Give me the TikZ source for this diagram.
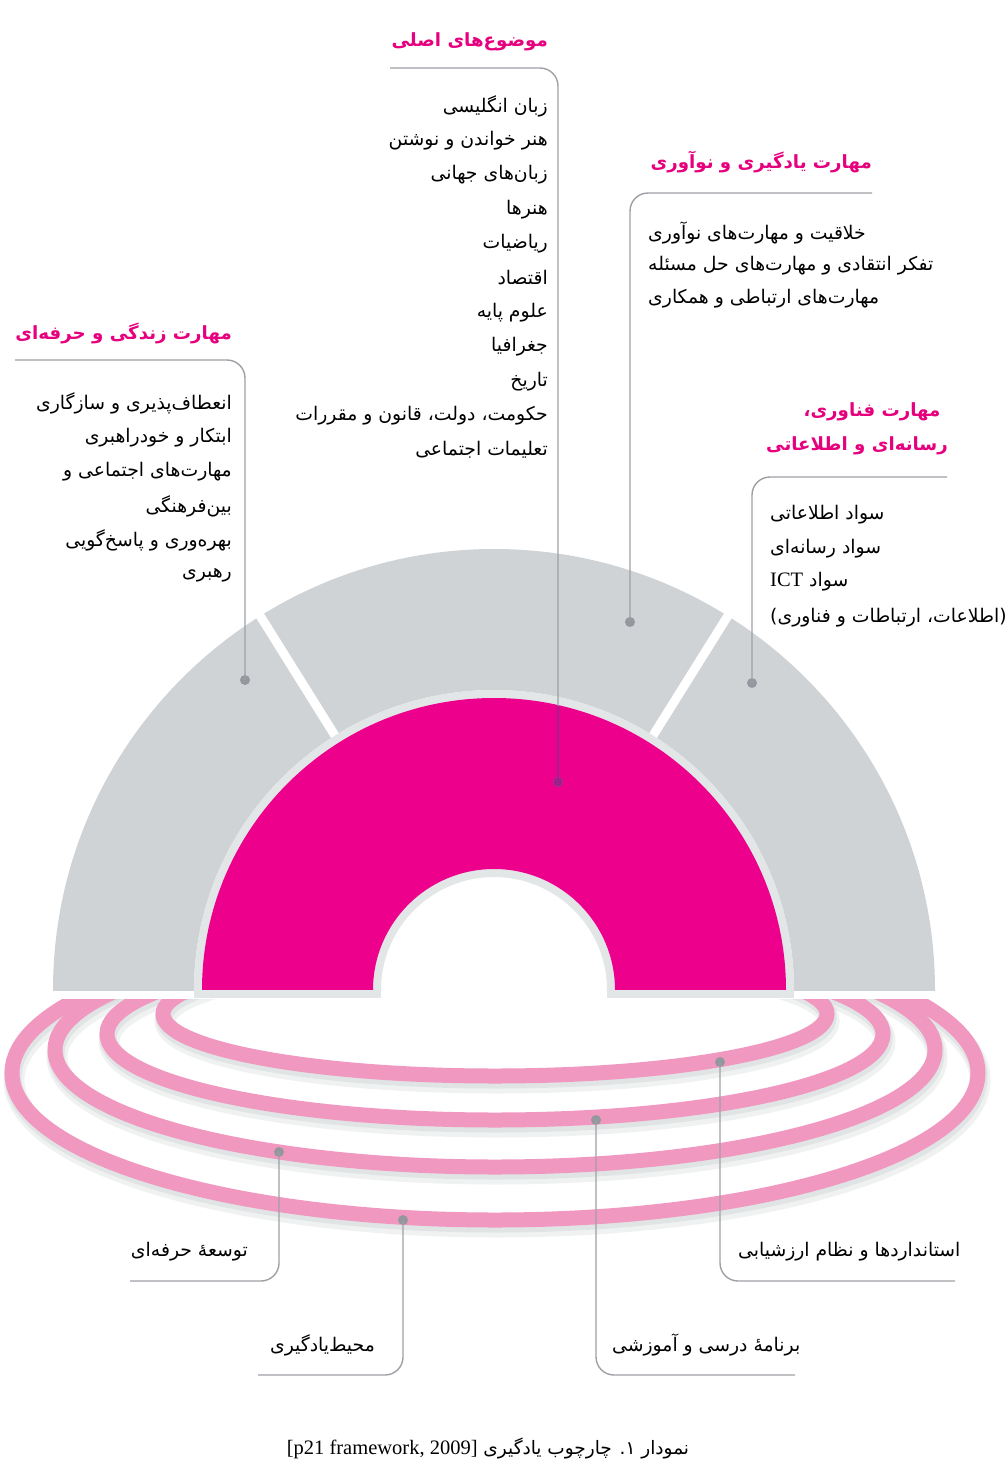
\documentclass[tikz,border=0pt]{standalone}
\usepackage{fontspec}
\setmainfont{Liberation Serif}
\newfontfamily\arabicfont[Script=Arabic]{DejaVu Sans}
\newfontfamily\latinfont{Liberation Serif}
\TeXXeTstate=1
\newcommand{\rtl}[1]{\beginR #1\endR}
\newcommand{\bodyfont}{\arabicfont\fontsize{18.8}{21}\selectfont}
\newcommand{\headfont}{\arabicfont\bfseries\fontsize{18.2}{21}\selectfont}
\definecolor{mag}{RGB}{236,0,140}
\definecolor{headmag}{RGB}{230,0,126}
\definecolor{archgrey}{RGB}{208,211,213}
\definecolor{rimgrey}{RGB}{226,230,230}
\definecolor{ringpink}{RGB}{241,152,193}
\definecolor{leadgrey}{RGB}{158,160,165}
\definecolor{dotgrey}{RGB}{148,151,157}
\definecolor{leadpurple}{RGB}{160,32,140}
\definecolor{shadowgrey}{RGB}{160,168,168}
\begin{document}
\begin{tikzpicture}[x=1pt,y=-1pt,
  body/.style={font=\bodyfont, inner sep=0pt, text=black},
  head/.style={font=\headfont, inner sep=0pt, text=headmag},
  lead/.style={draw=leadgrey, line width=1.4, rounded corners=18},
  dotmark/.style={circle, fill=dotgrey, minimum size=10, inner sep=0pt},
  ring/.style={draw=ringpink, line width=15},
  ringshadowA/.style={draw=shadowgrey, line width=21, opacity=0.15},
  ringshadowB/.style={draw=shadowgrey, line width=17, opacity=0.18}]
\fill[white] (0,0) rectangle (1005,1464);
\useasboundingbox (0,0) rectangle (1005,1464);

% ---------- rings ----------
\begin{scope}
\clip (0,999) rectangle (1005,1464);
\foreach \cy/\a/\b in {1073/483/147, 1050/440/117, 1034/388/86, 1014/332/62}{
  \draw[ringshadowA] (497,\cy+7) ellipse[x radius=\a, y radius=\b];
  \draw[ringshadowB] (496,\cy+4) ellipse[x radius=\a, y radius=\b];
  \draw[ring] (495,\cy) ellipse[x radius=\a, y radius=\b];
}
\end{scope}

% ---------- arch ----------
\begin{scope}[shift={(494,990)}]
  \begin{scope}
    \clip (-460,-460) rectangle (460,0);
    \fill[archgrey, even odd rule] (0,0) circle[radius=441] (0,0) circle[radius=300];
  \end{scope}
  \draw[white, line width=9] (153.7,-245.9) -- (238.5,-381.6);
  \draw[white, line width=9] (-153.7,-245.9) -- (-238.5,-381.6);
  \begin{scope}
    \clip (-310,-310) rectangle (310,0);
    \fill[rimgrey, even odd rule] (0,0) circle[radius=300] (0,0) circle[radius=113];
    \fill[mag, even odd rule] (0,0) circle[radius=292] (0,0) circle[radius=121];
  \end{scope}
  \fill[rimgrey] (-300,0) rectangle (-113,8);
  \fill[rimgrey] (113,0) rectangle (300,8);
\end{scope}

% ---------- dots ----------
\node[dotmark] (dmain) at (558,782) {};
\node[dotmark] (dlearn) at (630,622) {};
\node[dotmark] (dlife) at (245,680) {};
\node[dotmark] (dtech) at (752,683) {};
\node[dotmark] (dprof) at (279,1152) {};
\node[dotmark] (denv) at (403,1220) {};
\node[dotmark] (dcurr) at (596,1120) {};
\node[dotmark] (dstd) at (720,1062) {};

% ---------- leader lines ----------
\coordinate (m0) at (390,68);   \coordinate (mk) at (558,68);
\coordinate (l0) at (872,193);  \coordinate (lk) at (630,193);
\coordinate (f0) at (15,360);   \coordinate (fk) at (245,360);
\coordinate (t0) at (947,477);  \coordinate (tk) at (752,477);
\coordinate (p0) at (130,1281); \coordinate (pk) at (279,1281);
\coordinate (e0) at (258,1375); \coordinate (ek) at (403,1375);
\coordinate (c0) at (795,1375); \coordinate (ck) at (596,1375);
\coordinate (s0) at (955,1281); \coordinate (sk) at (720,1281);
\coordinate (menter) at (558,706);

\draw[lead] (m0) -- (mk) -- (dmain.center);
\draw[leadpurple, line width=1.4] (menter) -- (dmain.center);
\node[circle, fill=leadpurple, minimum size=10, inner sep=0pt] (dmainp) at (dmain) {};
\draw[lead] (l0) -- (lk) -- (dlearn.center);
\draw[lead] (f0) -- (fk) -- (dlife.center);
\draw[lead] (t0) -- (tk) -- (dtech.center);
\draw[lead] (dprof.center) -- (pk) -- (p0);
\draw[lead] (denv.center) -- (ek) -- (e0);
\draw[lead] (dcurr.center) -- (ck) -- (c0);
\draw[lead] (dstd.center) -- (sk) -- (s0);

% ---------- main subjects ----------
\node[head, anchor=east] (hmain) at (548,42) {\rtl{موضوع^^^^200cهای اصلی}};
\foreach \t [count=\i] in {زبان انگلیسی, هنر خواندن و نوشتن, زبان^^^^200cهای جهانی, هنرها, ریاضیات, اقتصاد, علوم پایه, جغرافیا, تاریخ, حکومت، دولت، قانون و مقررات, تعلیمات اجتماعی}{
  \node[body, anchor=east] (ms\i) at (548,{106+34.4*(\i-1)}) {\rtl{\t}};
}

% ---------- learning and innovation ----------
\node[head, anchor=east] (hlearn) at (872,162) {\rtl{مهارت یادگیری و نوآوری}};
\foreach \t [count=\i] in {خلاقیت و مهارت^^^^200cهای نوآوری, تفکر انتقادی و مهارت^^^^200cهای حل مسئله, مهارت^^^^200cهای ارتباطی و همکاری}{
  \node[body, anchor=west] (ls\i) at (648,{233+33*(\i-1)}) {\rtl{\t}};
}

% ---------- life and career ----------
\node[head, anchor=east] (hlife) at (232,333) {\rtl{مهارت زندگی و حرفه^^^^200cای}};
\foreach \t [count=\i] in {انعطاف^^^^200cپذیری و سازگاری, ابتکار و خودراهبری, مهارت^^^^200cهای اجتماعی و, بین^^^^200cفرهنگی, بهره^^^^200cوری و پاسخ^^^^200cگویی, رهبری}{
  \node[body, anchor=east] (fs\i) at (232,{403+34.4*(\i-1)}) {\rtl{\t}};
}

% ---------- information, media and technology ----------
\node[head] (htech1) at (872,412) {\rtl{مهارت فناوری،}};
\node[head] (htech2) at (857,446) {\rtl{رسانه^^^^200cای و اطلاعاتی}};
\node[body, anchor=west] (ts1) at (770,515) {\rtl{سواد اطلاعاتی}};
\node[body, anchor=west] (ts2) at (770,549) {\rtl{سواد رسانه^^^^200cای}};
\node[body, anchor=west] (ts3) at (770,582) {\rtl{سواد \beginL{\latinfont\fontsize{20.5}{22}\selectfont ICT}\endL}};
\node[body, anchor=west] (ts4) at (770,618) {\rtl{(اطلاعات، ارتباطات و فناوری)}};

% ---------- support systems ----------
\node[body, anchor=east] (tprof) at (248,1252) {\rtl{توسعهٔ حرفه^^^^200cای}};
\node[body, anchor=west] (tstd) at (738,1252) {\rtl{استانداردها و نظام ارزشیابی}};
\node[body, anchor=east] (tenv) at (375,1345) {\rtl{محیط^^^^200cیادگیری}};
\node[body, anchor=west] (tcurr) at (612,1345) {\rtl{برنامهٔ درسی و آموزشی}};

% ---------- caption ----------
\node[font=\arabicfont\fontsize{18.5}{22}\selectfont, inner sep=0pt] (cap) at (488,1448)
  {\rtl{نمودار ۱. چارچوب یادگیری \beginL{\latinfont\fontsize{20.5}{22}\selectfont[p21 framework, 2009]}\endL}};
\end{tikzpicture}
\end{document}
